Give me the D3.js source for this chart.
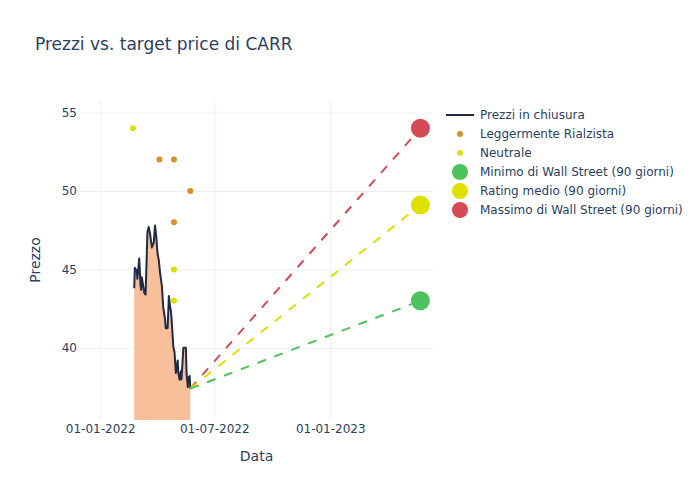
<!DOCTYPE html>
<html>
<head>
<meta charset="utf-8">
<script src="https://cdn.jsdelivr.net/npm/d3@7"></script>
<style>
  body { margin: 0; background: #fff; }
  text { font-family: "DejaVu Sans", verdana, arial, sans-serif; }
</style>
</head>
<body>
<svg id="chart" width="700" height="500"></svg>
<script>
// ---- data ----
const priceDates = ["2022-02-24","2022-02-25","2022-02-28","2022-03-01","2022-03-04","2022-03-06","2022-03-07","2022-03-08","2022-03-10","2022-03-12","2022-03-14","2022-03-17","2022-03-19","2022-03-21","2022-03-24","2022-03-27","2022-03-29","2022-03-31","2022-04-02","2022-04-04","2022-04-06","2022-04-09","2022-04-11","2022-04-14","2022-04-15","2022-04-18","2022-04-20","2022-04-22","2022-04-23","2022-04-24","2022-04-27","2022-04-29","2022-05-01","2022-05-02","2022-05-04","2022-05-05","2022-05-07","2022-05-09","2022-05-10","2022-05-13","2022-05-17","2022-05-18","2022-05-20","2022-05-21","2022-05-23","2022-05-24"];
const priceValues = [43.8,45.1,44.9,44.4,45.7,44.0,43.7,44.5,44.0,43.5,43.4,47.4,47.7,47.3,46.4,46.7,47.8,47.1,46.0,45.6,44.8,43.9,42.6,41.8,41.25,41.25,43.3,42.6,42.4,42.0,40.1,39.7,38.4,38.6,39.2,38.4,37.96,38.5,38.0,40.0,40.0,38.4,37.5,38.1,38.2,37.4];

const bullishDates = ["2022-04-05","2022-04-28","2022-05-24","2022-04-28"];
const bullishValues = [52,52,50,48];
const neutralDates = ["2022-02-22","2022-04-28","2022-04-28"];
const neutralValues = [54,45,43];

const targetDate = "2023-05-24";
const targetNames = ["Minimo di Wall Street (90 giorni)","Rating medio (90 giorni)","Massimo di Wall Street (90 giorni)"];
const targetValues = [43, 49.1, 54];
const targetColors = ["#4cc35c","#e0e000","#d64a55"];

const xTicks = ["2022-01-01","2022-07-01","2023-01-01"];
const yTicks = [40,45,50,55];

const seriesNames = ["Prezzi in chiusura","Leggermente Rialzista","Neutrale"];

// ---- layout ----
const parse = d3.timeParse("%Y-%m-%d");
const fmt = d3.timeFormat("%d-%m-%Y");
const M = {l: 80, r: 433, t: 100, b: 420};
const textColor = "#2a3f5f";
const gridColor = "#ebf0f8";
const lineColor = "#1f2b46";
const fillColor = "#f8bf9b";
const bullColor = "#d98e26";
const neutColor = "#e0e000";

const svg = d3.select("#chart");

const x = d3.scaleTime().domain([parse("2021-11-30"), parse("2023-06-13")]).range([M.l, M.r]);
const y = d3.scaleLinear().domain([35.4, 55.8]).range([M.b, M.t]);

svg.append("defs").append("clipPath").attr("id","clip")
  .append("rect").attr("x", M.l).attr("y", M.t).attr("width", M.r - M.l).attr("height", M.b - M.t);

// grid
const gx = svg.append("g").attr("transform", `translate(0,${M.b})`)
  .call(d3.axisBottom(x).tickValues(xTicks.map(parse)).tickFormat(fmt).tickSize(-(M.b - M.t)).tickPadding(3));
gx.select(".domain").remove();
gx.selectAll("line").attr("stroke", gridColor).attr("stroke-width", 1);
gx.selectAll("text").attr("fill", textColor).attr("font-size", 12).attr("dy", "0.85em");

const gy = svg.append("g").attr("transform", `translate(${M.l},0)`)
  .call(d3.axisLeft(y).tickValues(yTicks).tickSize(-(M.r - M.l)).tickPadding(3));
gy.select(".domain").remove();
gy.selectAll("line").attr("stroke", gridColor).attr("stroke-width", 1);
gy.selectAll("text").attr("fill", textColor).attr("font-size", 12);

const plot = svg.append("g").attr("clip-path", "url(#clip)");

const pts = priceDates.map((d, i) => ({d: parse(d), v: priceValues[i]}));
plot.append("path").datum(pts)
  .attr("d", d3.area().x(p => x(p.d)).y0(y(0)).y1(p => y(p.v)))
  .attr("fill", fillColor);
plot.append("path").datum(pts)
  .attr("d", d3.line().x(p => x(p.d)).y(p => y(p.v)))
  .attr("fill", "none").attr("stroke", lineColor).attr("stroke-width", 2).attr("stroke-linejoin", "round");

// target lines
const last = pts[pts.length - 1];
[2,1,0].forEach(i => {
  plot.append("line")
    .attr("x1", x(last.d)).attr("y1", y(last.v))
    .attr("x2", x(parse(targetDate))).attr("y2", y(targetValues[i]))
    .attr("stroke", targetColors[i]).attr("stroke-width", 2).attr("stroke-dasharray", "9,9");
});

// analyst points
bullishDates.forEach((d, i) => {
  plot.append("circle").attr("cx", x(parse(d))).attr("cy", y(bullishValues[i])).attr("r", 3).attr("fill", bullColor);
});
neutralDates.forEach((d, i) => {
  plot.append("circle").attr("cx", x(parse(d))).attr("cy", y(neutralValues[i])).attr("r", 3).attr("fill", neutColor);
});

// target markers
targetValues.forEach((v, i) => {
  svg.append("circle").attr("cx", x(parse(targetDate))).attr("cy", y(v)).attr("r", 9.5).attr("fill", targetColors[i]);
});

// title & axis titles
svg.append("text").attr("x", 35).attr("y", 50).attr("fill", textColor).attr("font-size", 17)
  .text("Prezzi vs. target price di CARR");
svg.append("text").attr("x", (M.l + M.r) / 2).attr("y", 461).attr("text-anchor", "middle")
  .attr("fill", textColor).attr("font-size", 14).text("Data");
svg.append("text").attr("transform", `translate(40,${(M.t + M.b) / 2}) rotate(-90)`).attr("text-anchor", "middle")
  .attr("fill", textColor).attr("font-size", 14).text("Prezzo");

// legend
const lg = svg.append("g").attr("transform", "translate(446,115)");
const rows = [
  {name: seriesNames[0], type: "line", color: lineColor},
  {name: seriesNames[1], type: "dot", color: bullColor},
  {name: seriesNames[2], type: "dot", color: neutColor},
  {name: targetNames[0], type: "big", color: targetColors[0]},
  {name: targetNames[1], type: "big", color: targetColors[1]},
  {name: targetNames[2], type: "big", color: targetColors[2]}
];
rows.forEach((r, i) => {
  const g = lg.append("g").attr("transform", `translate(0,${i * 19})`);
  if (r.type === "line") {
    g.append("line").attr("x1", 0).attr("x2", 28).attr("y1", 0).attr("y2", 0).attr("stroke", r.color).attr("stroke-width", 2);
  } else {
    g.append("circle").attr("cx", 14).attr("cy", 0).attr("r", r.type === "dot" ? 3 : 8).attr("fill", r.color);
  }
  g.append("text").attr("x", 34).attr("y", 0).attr("dy", "0.35em").attr("fill", textColor).attr("font-size", 12).text(r.name);
});
</script>
</body>
</html>
